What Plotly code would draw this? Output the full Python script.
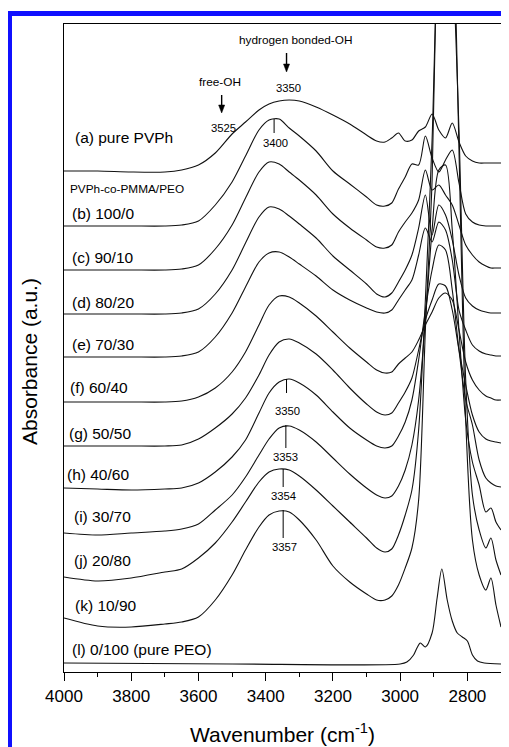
import plotly.graph_objects as go

# ---------------- data (absorbance, arbitrary units, spectra offset) ----------------
wavenumber = [4000, 3900, 3800, 3700, 3650, 3600, 3550, 3500, 3460, 3420, 3390, 3360,
              3330, 3300, 3250, 3200, 3150, 3100, 3070, 3045, 3025, 3005, 2985, 2965,
              2945, 2925, 2905, 2885, 2865, 2845, 2825, 2805, 2785, 2765, 2745, 2730,
              2715, 2700]

spec_a = [501, 501, 500, 500, 502, 507, 519, 538, 550, 562, 568, 571, 572, 571, 565, 557,
          548, 537, 531, 530, 534, 539, 531, 532, 541, 545, 558, 542, 534, 549, 530, 516,
          511, 509, 509, 509, 509, 509]
spec_b = [446, 446, 446, 446, 447, 451, 467, 490, 516, 542, 552, 553, 544, 536, 521, 501,
          488, 475, 467, 466, 469, 483, 495, 508, 507, 536, 514, 500, 512, 522, 489, 458,
          450, 447, 446, 446, 446, 446]
spec_c = [402, 402, 402, 402, 403, 407, 423, 447, 474, 500, 510, 508, 500, 492, 477, 458,
          444, 432, 425, 424, 427, 440, 450, 459, 472, 502, 482, 487, 477, 467, 447, 427,
          417, 410, 406, 404, 404, 404]
spec_d = [358, 358, 358, 358, 359, 363, 378, 402, 429, 455, 465, 463, 456, 448, 434, 416,
          402, 388, 378, 375, 379, 390, 402, 417, 444, 477, 437, 467, 457, 432, 397, 374,
          366, 362, 360, 359, 359, 359]
spec_e = [315, 315, 315, 315, 316, 320, 335, 359, 385, 410, 419, 420, 415, 408, 396, 382,
          372, 364, 360, 359, 362, 372, 382, 392, 417, 444, 430, 450, 442, 412, 362, 342,
          327, 321, 318, 317, 316, 316]
spec_f = [270, 270, 270, 270, 271, 275, 284, 300, 320, 347, 367, 376, 375, 369, 356, 340,
          324, 310, 302, 299, 300, 308, 314, 320, 332, 347, 360, 374, 379, 372, 342, 310,
          292, 282, 276, 274, 272, 272]
spec_g = [226, 226, 226, 226, 227, 233, 244, 258, 274, 297, 317, 330, 333, 329, 318, 302,
          284, 268, 260, 257, 259, 269, 280, 294, 322, 352, 372, 388, 386, 362, 322, 287,
          257, 240, 233, 231, 230, 229]
spec_h = [184, 183, 182, 183, 184, 189, 200, 215, 232, 259, 279, 290, 293, 289, 277, 260,
          244, 232, 226, 224, 226, 236, 250, 272, 312, 362, 402, 427, 422, 382, 322, 272,
          247, 212, 194, 189, 186, 185]
spec_i = [139, 137, 139, 141, 143, 148, 162, 177, 195, 217, 233, 244, 246, 242, 230, 214,
          198, 184, 177, 174, 176, 186, 202, 227, 272, 352, 442, 502, 507, 442, 342, 252,
          210, 187, 160, 164, 150, 142]
spec_j = [95, 91, 94, 100, 103, 114, 129, 150, 170, 190, 200, 203, 202, 196, 182, 166,
          150, 134, 124, 120, 123, 137, 157, 182, 242, 372, 532, 752, 822, 722, 542, 292,
          177, 142, 124, 134, 112, 97]
spec_k = [54, 46, 45, 48, 50, 55, 72, 97, 122, 145, 157, 161, 160, 152, 132, 106,
          90, 78, 72, 72, 76, 87, 104, 124, 172, 342, 492, 822, 1072, 822, 522, 252,
          132, 97, 82, 94, 67, 45]

wavenumber_peo = [4000, 3500, 3000, 2980, 2960, 2950, 2940, 2925, 2905, 2890, 2876, 2860,
                  2845, 2830, 2815, 2800, 2785, 2770, 2750, 2700]
spec_l = [9, 8, 8, 10, 17, 24, 29, 25, 39, 74, 103, 72, 51, 39, 35, 31, 17, 11, 9, 8]

spectra = [spec_a, spec_b, spec_c, spec_d, spec_e, spec_f, spec_g, spec_h, spec_i,
           spec_j, spec_k]

# curve labels
labels = ["(a) pure PVPh", "PVPh-co-PMMA/PEO", "(b) 100/0", "(c) 90/10", "(d) 80/20",
          "(e) 70/30", "(f) 60/40", "(g) 50/50", "(h) 40/60", "(i) 30/70", "(j) 20/80",
          "(k) 10/90", "(l) 0/100 (pure PEO)"]
label_wn = [3974, 3989, 3983, 3983, 3983, 3983, 3989, 3992, 3998, 3977, 3977, 3974, 3983]
label_au = [535, 483, 459, 415, 370, 328, 285, 239, 198, 156, 112, 67, 23]

# band annotations
note_text = ["hydrogen bonded-OH", "free-OH", "3350", "3525", "3400",
             "3350", "3353", "3354", "3357"]
note_wn = [3311, 3536, 3332, 3527, 3371, 3336, 3341, 3347, 3345]
note_au = [632, 590, 584, 544, 529, 261, 215, 176, 125]

# peak marker lines (wavenumber, top, bottom)
mark_wn = [3375, 3338, 3340, 3348, 3348]
mark_top = [553, 293, 247, 203, 162]
mark_bot = [539, 279, 224, 185, 134]

# arrows (wavenumber, tail level, head level)
arrow_wn = [3338, 3531]
arrow_tail = [619, 577]
arrow_head = [600, 559]

xticks = [4000, 3800, 3600, 3400, 3200, 3000, 2800]
xminor = [3900, 3700, 3500, 3300, 3100, 2900, 2700]

# ---------------- figure ----------------
FONT = "Liberation Sans, Arial, Helvetica, sans-serif"
# the page body has an 8px margin: figure is placed at (8, 8) in the 509x747 window
OFF = 8
W, H = 509 - OFF, 747 - OFF
PX0, PX1, PY0, PY1 = 64, 501, 24, 672          # plot area in window pixels
ML, MR, MT, MB = PX0 - OFF, W - (PX1 - OFF), PY0 - OFF, H - (PY1 - OFF)
PW, PH = PX1 - PX0, PY1 - PY0


def paper_x(px):
    return (px - PX0) / PW


def paper_y(py):
    return (PY1 - py) / PH


fig = go.Figure()
line_style = dict(color="#111111", width=1.1, shape="spline", smoothing=0.8)
for s in spectra:
    fig.add_trace(go.Scatter(x=wavenumber, y=s, mode="lines", line=line_style,
                             hoverinfo="skip"))
fig.add_trace(go.Scatter(x=wavenumber_peo, y=spec_l, mode="lines", line=line_style,
                         hoverinfo="skip"))

ann = []
for t, xw, ya in zip(labels, label_wn, label_au):
    ann.append(dict(x=xw, y=ya, xref="x", yref="y", text=t, showarrow=False,
                    xanchor="left", yanchor="middle",
                    font=dict(family=FONT, size=11.8 if "co" in t else 15.5,
                              color="black")))
for t, xw, ya in zip(note_text, note_wn, note_au):
    ann.append(dict(x=xw, y=ya, xref="x", yref="y", text=t, showarrow=False,
                    xanchor="center", yanchor="middle",
                    font=dict(family=FONT, size=11.8 if not t.isdigit() else 11.3,
                              color="black")))

ann.append(dict(x=0.5, y=paper_y(733), xref="paper", yref="paper",
                text="Wavenumber (cm<sup>-1</sup>)", showarrow=False,
                xanchor="center", yanchor="middle",
                font=dict(family=FONT, size=21, color="black")))
ann.append(dict(x=paper_x(29), y=paper_y(362), xref="paper", yref="paper",
                text="Absorbance (a.u.)", showarrow=False, textangle=-90,
                xanchor="center", yanchor="middle",
                font=dict(family=FONT, size=21, color="black")))

shapes = []
for xw, y0, y1 in zip(mark_wn, mark_top, mark_bot):
    shapes.append(dict(type="line", xref="x", yref="y", x0=xw, x1=xw, y0=y0, y1=y1,
                       line=dict(color="black", width=1)))
for xw, yt, yh in zip(arrow_wn, arrow_tail, arrow_head):
    shapes.append(dict(type="line", xref="x", yref="y", x0=xw, x1=xw, y0=yt, y1=yh + 6,
                       line=dict(color="black", width=1.4)))
    shapes.append(dict(type="path", xref="x", yref="y",
                       path=f"M {xw - 9},{yh + 8} L {xw + 9},{yh + 8} L {xw},{yh} Z",
                       fillcolor="black", line=dict(color="black", width=0.5)))
# blue frame of the page
shapes.append(dict(type="rect", xref="paper", yref="paper",
                   x0=paper_x(9.5), x1=paper_x(508),
                   y0=paper_y(790), y1=paper_y(13.5),
                   line=dict(color="#1010ff", width=5), fillcolor="rgba(0,0,0,0)",
                   layer="above"))

fig.update_layout(
    width=W, height=H, margin=dict(l=ML, r=MR, t=MT, b=MB),
    paper_bgcolor="white", plot_bgcolor="white", showlegend=False,
    annotations=ann, shapes=shapes,
    xaxis=dict(range=[4000, 2700], showline=True, mirror=True, linecolor="black",
               linewidth=1.3, ticks="outside", ticklen=8, tickwidth=1.2,
               tickcolor="black", tickvals=xticks, ticktext=[str(v) for v in xticks],
               tickfont=dict(family=FONT, size=17, color="black"),
               showgrid=False, zeroline=False,
               minor=dict(tickvals=xminor, ticks="outside", ticklen=4, tickwidth=1.2,
                          tickcolor="black")),
    yaxis=dict(range=[0, 648], showline=True, mirror=True, linecolor="black",
               linewidth=1.3, ticks="", showticklabels=False, showgrid=False,
               zeroline=False),
)

fig.write_html("out.html")
